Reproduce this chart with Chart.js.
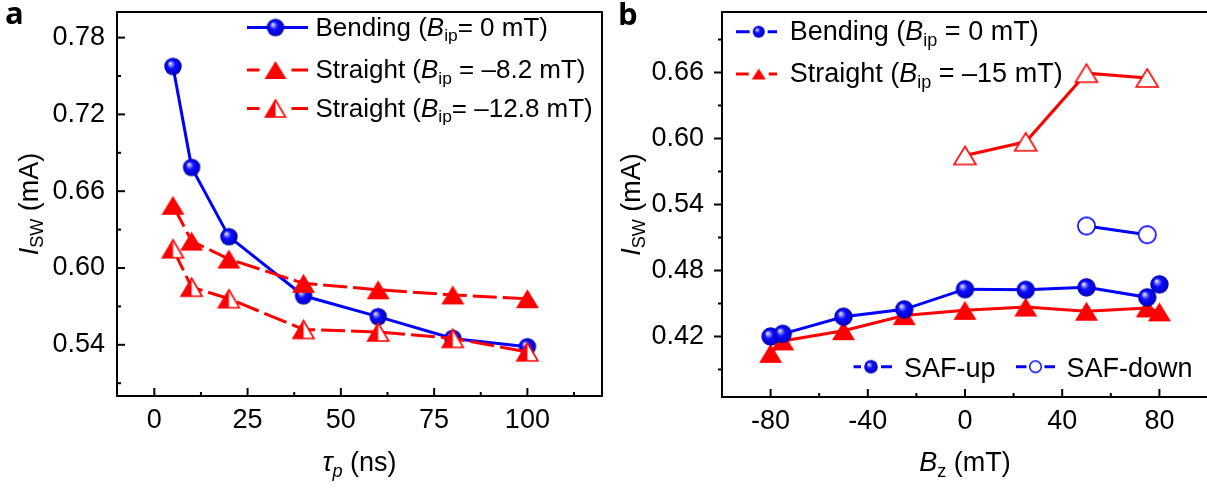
<!DOCTYPE html>
<html><head><meta charset="utf-8">
<script src="https://cdn.jsdelivr.net/npm/chart.js@4/dist/chart.umd.min.js"></script>
<style>
html,body{margin:0;padding:0;background:#fff;overflow:hidden;width:1207px;height:490px;}
#wa{position:absolute;left:0;top:0;width:620px;height:490px;}
#wb{position:absolute;left:610px;top:0;width:610px;height:490px;}
</style></head><body>
<div id="wa"><canvas id="ca"></canvas></div>
<div id="wb"><canvas id="cb"></canvas></div>
<script>
// ---------- data (panel a) ----------
const tauNs = [5, 10, 20, 40, 60, 80, 100];
const bendingTau = [0.7575, 0.6786, 0.6245, 0.5783, 0.5620, 0.5450, 0.5385];
const straight82Tau = [0.6490, 0.6210, 0.6070, 0.5880, 0.5830, 0.5790, 0.5760];
const straight128Tau = [0.6150, 0.5850, 0.5760, 0.5520, 0.5500, 0.5450, 0.5345];
// ---------- data (panel b) ----------
const bzUp = [-80, -75, -50, -25, 0, 25, 50, 75, 80];
const bendingUp = [0.4200, 0.4224, 0.4380, 0.4447, 0.4630, 0.4624, 0.4647, 0.4556, 0.4674];
const straightUp = [0.4047, 0.4160, 0.4253, 0.4390, 0.4438, 0.4468, 0.4430, 0.4460, 0.4424];
const bzDownStraight = [0, 25, 50, 75];
const straightDown = [0.5846, 0.5970, 0.6594, 0.6550];
const bzDownBending = [50, 75];
const bendingDown = [0.5205, 0.5125];
// ---------- ticks ----------
const xTicksA = [0, 25, 50, 75, 100];
const xMinorA = [12.5, 37.5, 62.5, 87.5, 112.5];
const yTicksA = [0.54, 0.60, 0.66, 0.72, 0.78];
const yMinorA = [0.51, 0.57, 0.63, 0.69, 0.75];
const xTicksB = [-80, -40, 0, 40, 80];
const xMinorB = [-60, -20, 20, 60];
const yTicksB = [0.42, 0.48, 0.54, 0.60, 0.66];
const yMinorB = [0.39, 0.45, 0.51, 0.57, 0.63, 0.69];
// ---------- labels ----------
const legendA = [
  [{t:'Bending ('},{t:'B',it:1},{t:'ip',sub:1},{t:'= 0 mT)'}],
  [{t:'Straight ('},{t:'B',it:1},{t:'ip',sub:1},{t:' = –8.2 mT)'}],
  [{t:'Straight ('},{t:'B',it:1},{t:'ip',sub:1},{t:'= –12.8 mT)'}]
];
const legendB = [
  [{t:'Bending ('},{t:'B',it:1},{t:'ip',sub:1},{t:' = 0 mT)'}],
  [{t:'Straight ('},{t:'B',it:1},{t:'ip',sub:1},{t:' = –15 mT)'}]
];
const legendB2 = [[{t:'SAF-up'}],[{t:'SAF-down'}]];
const yTitle = [{t:'I',it:1},{t:'SW',sub:1},{t:' (mA)'}];
const xTitleA = [{t:'τ',it:1},{t:'p',it:1,sub:1},{t:' (ns)'}];
const xTitleB = [{t:'B',it:1},{t:'z',sub:1},{t:' (mT)'}];

const FONT = "'Liberation Sans', Arial, Helvetica, sans-serif";
const BLUE = '#0000ff', RED = '#ff0000';
const RED_DASH = [24, 6];

// ---------- marker images ----------
function mk(w,h,fn){const c=document.createElement('canvas');c.width=w;c.height=h;fn(c.getContext('2d'),w,h);return c;}
function sphere(r){
  const s=Math.ceil(2*r+2);
  return mk(s,s,(g,w,h)=>{const c=w/2;
    const gr=g.createRadialGradient(c-0.35*r,c-0.38*r,0,c,c,r);
    gr.addColorStop(0,'#ffffff');gr.addColorStop(0.18,'#9a9aff');gr.addColorStop(0.45,'#1010ff');
    gr.addColorStop(0.85,'#0000d8');gr.addColorStop(1,'#00008a');
    g.fillStyle=gr;g.beginPath();g.arc(c,c,r,0,Math.PI*2);g.fill();});
}
function openCircle(r,lw){
  const s=Math.ceil(2*r+lw+2);
  return mk(s,s,(g,w,h)=>{const c=w/2;g.fillStyle='#fff';g.strokeStyle=BLUE;g.lineWidth=lw;
    g.beginPath();g.arc(c,c,r,0,Math.PI*2);g.fill();g.stroke();});
}
function tri(w,h,mode,lw){
  const W=Math.ceil(w+lw+2),H=Math.ceil(h+lw+2);
  return mk(W,H,(g)=>{const x0=(W-w)/2,y0=(H-h)/2;
    const path=()=>{g.beginPath();g.moveTo(x0+w/2,y0);g.lineTo(x0+w,y0+h);g.lineTo(x0,y0+h);g.closePath();};
    if(mode==='fill'){g.fillStyle=RED;path();g.fill();return;}
    g.fillStyle='#fff';path();g.fill();
    if(mode==='half'){g.save();path();g.clip();g.fillStyle=RED;g.fillRect(x0,y0,w/2,h);g.restore();}
    g.strokeStyle=RED;g.lineWidth=lw;g.lineJoin='miter';path();g.stroke();});
}
const mSphereA=sphere(8.7), mTriA=tri(23,19,'fill',0), mHalfA=tri(21,18,'half',1.6);
const mSphereB=sphere(9.2), mTriB=tri(23,19,'fill',0), mOpenTriB=tri(22,18,'open',1.6), mOpenCircB=openCircle(8.6,1.6);
const lgSphereA=sphere(8.7), lgTriA=tri(22,18,'fill',0), lgHalfA=tri(20,17,'half',1.6);
const lgSphereB=sphere(6), lgTriB=tri(14,11,'fill',0), lgSphereB2=sphere(6.8), lgOpenCircB2=openCircle(5.8,1.4);

// ---------- helpers ----------
function pts(xs,ys){return xs.map((x,i)=>({x:x,y:ys[i]}));}
function drawRich(ctx,segs,x,y,size,align){
  let w=0;
  const parts=segs.map(s=>{const fs=s.sub?size*0.67:size;const f=(s.it?'italic ':'')+fs+'px '+FONT;
    ctx.font=f;const ww=ctx.measureText(s.t).width;w+=ww;return {s:s,f:f,ww:ww,dy:s.sub?size*0.22:0};});
  let cx=align==='center'?x-w/2:(align==='right'?x-w:x);
  ctx.textBaseline='alphabetic';ctx.textAlign='left';ctx.fillStyle='#000';
  parts.forEach(p=>{ctx.font=p.f;ctx.fillText(p.s.t,cx,y+p.dy);cx+=p.ww;});
}
function legendItem(ctx,it){
  ctx.save();ctx.strokeStyle=it.color;ctx.lineWidth=3;ctx.setLineDash(it.dash||[]);
  const g=it.gap||0;
  ctx.beginPath();ctx.moveTo(it.x1,it.y);ctx.lineTo(it.m-g,it.y);ctx.moveTo(it.m+g,it.y);ctx.lineTo(it.x2,it.y);ctx.stroke();
  ctx.restore();
  ctx.drawImage(it.img,it.m-it.img.width/2,it.y-it.img.height/2);
  drawRich(ctx,it.segs,it.tx,it.ty,it.size,'left');
}
function frame(chart,cfg){
  const ctx=chart.ctx,a=chart.chartArea,x=chart.scales.x,y=chart.scales.y;
  ctx.save();ctx.strokeStyle='#000';ctx.lineWidth=2;ctx.setLineDash([]);
  ctx.strokeRect(a.left,a.top,a.right-a.left,a.bottom-a.top);
  const seg=(x1,y1,x2,y2)=>{ctx.beginPath();ctx.moveTo(x1,y1);ctx.lineTo(x2,y2);ctx.stroke();};
  cfg.xMajor.forEach(v=>{const p=x.getPixelForValue(v);seg(p,a.bottom,p,a.bottom-8);});
  cfg.xMinor.forEach(v=>{const p=x.getPixelForValue(v);seg(p,a.bottom,p,a.bottom-4);});
  const d=cfg.yOut?-1:1;
  cfg.yMajor.forEach(v=>{const p=y.getPixelForValue(v);seg(a.left,p,a.left+d*8,p);});
  cfg.yMinor.forEach(v=>{const p=y.getPixelForValue(v);seg(a.left,p,a.left+d*4,p);});
  ctx.restore();
  // axis titles
  ctx.save();ctx.translate(cfg.yTitleX,(a.top+a.bottom)/2);ctx.rotate(-Math.PI/2);
  drawRich(ctx,yTitle,0,9.5,27,'center');ctx.restore();
  drawRich(ctx,cfg.xTitle,(a.left+a.right)/2,471,27,'center');
  // panel letter
  ctx.save();ctx.font="bold 31px 'Open Sans', 'DejaVu Sans', sans-serif";ctx.fillStyle='#000';
  ctx.textBaseline='alphabetic';ctx.textAlign='left';ctx.fillText(cfg.letter,cfg.letterX,cfg.letterY);ctx.restore();
  cfg.legend.forEach(it=>legendItem(ctx,it));
}
function axisCfg(min,max,ticks,fmt,pad,fitFn){
  return {type:'linear',min:min,max:max,
    grid:{display:false,drawTicks:false},border:{display:false},
    ticks:{font:{family:FONT,size:27},color:'#000',padding:pad,autoSkip:false,maxRotation:0,callback:fmt},
    afterBuildTicks:s=>{s.ticks=ticks.map(v=>({value:v}));},
    afterFit:fitFn};
}
Chart.defaults.font.family=FONT;

// ---------- chart a ----------
const legA=[
  {img:lgSphereA,color:BLUE,dash:[],gap:0,x1:247,x2:308,m:275.5,y:27.5,tx:315.5,ty:35.5,size:26,segs:legendA[0]},
  {img:lgTriA,color:RED,dash:[],gap:16,x1:247,x2:308,m:275.5,y:70,tx:315.5,ty:78,size:26,segs:legendA[1]},
  {img:lgHalfA,color:RED,dash:[],gap:16,x1:247,x2:308,m:275.5,y:108.5,tx:315.5,ty:116.5,size:26,segs:legendA[2]}
];
new Chart(document.getElementById('ca'),{
  type:'line',
  data:{datasets:[
    {label:'Straight (Bip = -12.8 mT)',data:pts(tauNs,straight128Tau),borderColor:RED,borderWidth:3,borderDash:RED_DASH,pointStyle:mHalfA,pointRadius:9,fill:false,tension:0},
    {label:'Straight (Bip = -8.2 mT)',data:pts(tauNs,straight82Tau),borderColor:RED,borderWidth:3,borderDash:RED_DASH,pointStyle:mTriA,pointRadius:9,fill:false,tension:0},
    {label:'Bending (Bip = 0 mT)',data:pts(tauNs,bendingTau),borderColor:BLUE,borderWidth:3,pointStyle:mSphereA,pointRadius:9,fill:false,tension:0}
  ]},
  options:{responsive:true,maintainAspectRatio:false,animation:false,
    layout:{padding:{left:0,top:4,right:18,bottom:0}},
    plugins:{legend:{display:false},tooltip:{enabled:false}},
    scales:{
      x:axisCfg(-10,120,xTicksA,v=>String(v),8,s=>{s.height=94;s.paddingLeft=0;s.paddingRight=0;}),
      y:axisCfg(0.50,0.80,yTicksA,v=>Number(v).toFixed(2),12,s=>{s.width=117;s.paddingTop=0;s.paddingBottom=0;})
    }},
  plugins:[{id:'frameA',afterDraw:c=>frame(c,{xMajor:xTicksA,xMinor:xMinorA,yMajor:yTicksA,yMinor:yMinorA,yOut:false,
    yTitleX:28,xTitle:xTitleA,letter:'a',letterX:5,letterY:23.5,legend:legA})}]
});

// ---------- chart b ----------
const OB=610;
const legB=[
  {img:lgSphereB,color:BLUE,dash:[],gap:9,x1:736-OB,x2:777-OB,m:758.7-OB,y:31.7,tx:789.7-OB,ty:40,size:27,segs:legendB[0]},
  {img:lgTriB,color:RED,dash:[],gap:10,x1:736-OB,x2:777-OB,m:758.7-OB,y:74,tx:789.7-OB,ty:82,size:27,segs:legendB[1]},
  {img:lgSphereB2,color:BLUE,dash:[],gap:10,x1:853.6-OB,x2:892-OB,m:871-OB,y:366.7,tx:904-OB,ty:376.7,size:27,segs:legendB2[0]},
  {img:lgOpenCircB2,color:BLUE,dash:[],gap:9,x1:1016-OB,x2:1055-OB,m:1035.5-OB,y:366.7,tx:1066.5-OB,ty:376.7,size:27,segs:legendB2[1]}
];
new Chart(document.getElementById('cb'),{
  type:'line',
  data:{datasets:[
    {label:'Bending SAF-up',data:pts(bzUp,bendingUp),borderColor:BLUE,borderWidth:3,pointStyle:mSphereB,pointRadius:9,fill:false,tension:0},
    {label:'Straight SAF-up',data:pts(bzUp,straightUp),borderColor:RED,borderWidth:3,pointStyle:mTriB,pointRadius:9,fill:false,tension:0},
    {label:'Bending SAF-down',data:pts(bzDownBending,bendingDown),borderColor:BLUE,borderWidth:3,pointStyle:mOpenCircB,pointRadius:9,fill:false,tension:0},
    {label:'Straight SAF-down',data:pts(bzDownStraight,straightDown),borderColor:RED,borderWidth:3,pointStyle:mOpenTriB,pointRadius:9,fill:false,tension:0}
  ]},
  options:{responsive:true,maintainAspectRatio:false,animation:false,
    layout:{padding:{left:0,top:4,right:12,bottom:0}},
    plugins:{legend:{display:false},tooltip:{enabled:false}},
    scales:{
      x:axisCfg(-100,100,xTicksB,v=>String(v),8,s=>{s.height=93;s.paddingLeft=0;s.paddingRight=0;}),
      y:axisCfg(0.365,0.715,yTicksB,v=>Number(v).toFixed(2),18,s=>{s.width=112;s.paddingTop=0;s.paddingBottom=0;})
    }},
  plugins:[{id:'frameB',afterDraw:c=>frame(c,{xMajor:xTicksB,xMinor:xMinorB,yMajor:yTicksB,yMinor:yMinorB,yOut:true,
    yTitleX:630-OB,xTitle:xTitleB,letter:'b',letterX:618-OB,letterY:25,legend:legB})}]
});
</script>
</body></html>
